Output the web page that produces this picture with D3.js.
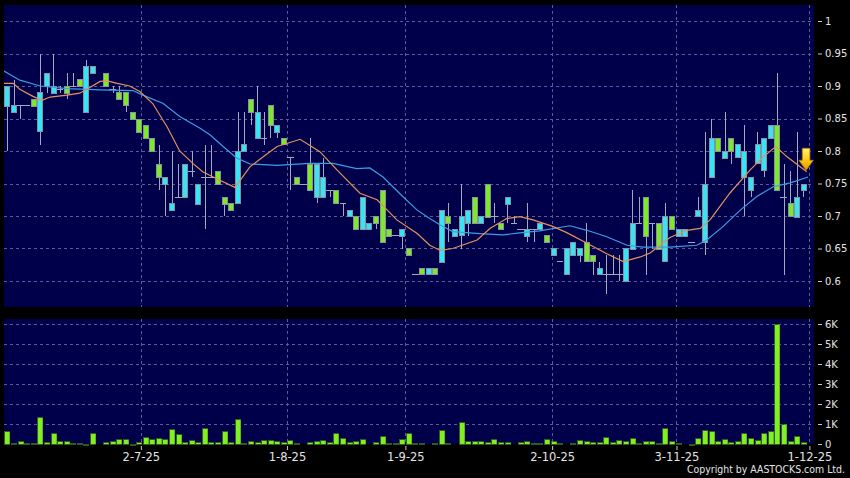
<!DOCTYPE html>
<html>
<head>
<meta charset="utf-8">
<script src="https://cdn.jsdelivr.net/npm/d3@7"></script>
<style>
html, body { margin: 0; padding: 0; background: #000; }
svg { display: block; }
</style>
</head>
<body>
<svg id="chart" width="850" height="478"></svg>
<script>
// daily candles, index 0 = first session shown (null = no trade)
const open  = [0.87,0.86,0.87,0.87,0.88,0.83,0.90,0.89,0.895,0.90,0.90,0.91,0.86,0.92,null,0.92,0.895,0.89,0.89,0.86,
  0.85,0.84,0.82,0.78,0.75,0.71,0.73,0.73,0.77,0.72,0.76,0.76,0.77,0.73,0.72,0.72,0.80,0.88,0.82,0.82,
  0.87,0.83,0.82,0.79,0.76,0.75,0.78,0.73,0.73,0.74,0.74,0.72,0.70,0.70,0.68,0.68,0.70,0.74,0.68,0.67,
  0.67,0.65,0.61,0.62,0.61,0.62,0.63,0.70,0.67,0.67,0.69,0.73,0.69,0.75,0.70,0.69,0.72,0.69,0.68,0.67,
  0.68,0.68,0.67,0.64,0.63,0.61,0.64,0.64,0.66,0.64,0.61,0.61,0.61,0.61,0.60,0.65,0.69,0.73,0.69,0.69,
  0.63,0.70,0.67,0.67,0.66,0.70,0.66,0.76,0.82,0.79,0.82,0.79,0.76,0.74,0.78,0.77,0.82,0.84,0.73,0.72,
  0.70,0.74];
const high  = [0.90,0.91,0.87,0.87,0.88,0.95,0.92,0.95,0.90,0.92,0.92,0.91,0.94,0.93,null,0.92,0.90,0.90,0.89,0.86,
  0.85,0.84,0.82,0.81,0.76,0.80,0.78,0.78,0.80,0.75,0.81,0.81,0.77,0.73,0.72,0.86,0.86,0.88,0.90,0.86,
  0.87,0.84,0.82,0.79,0.76,0.75,0.82,0.78,0.79,0.74,0.74,0.72,0.71,0.70,0.73,0.69,0.70,0.74,0.68,0.67,
  0.68,0.65,0.61,0.62,0.62,0.62,0.71,0.72,0.68,0.75,0.71,0.73,0.70,0.75,0.72,0.69,0.73,0.70,0.68,0.72,
  0.68,0.69,0.67,0.65,0.63,0.65,0.66,0.65,0.69,0.64,0.63,0.64,0.64,0.64,0.65,0.74,0.73,0.73,0.69,0.69,
  0.72,0.70,0.68,0.68,0.66,0.73,0.83,0.85,0.82,0.86,0.82,0.81,0.84,0.76,0.83,0.82,0.84,0.92,0.78,0.77,
  0.83,0.75];
const low   = [0.80,0.86,0.85,0.87,0.87,0.81,0.89,0.89,0.89,0.88,0.90,0.90,0.86,0.92,null,0.90,0.89,0.88,0.86,0.85,
  0.83,0.82,0.80,0.74,0.70,0.71,0.73,0.73,0.76,0.72,0.68,0.76,0.75,0.70,0.71,0.72,0.80,0.84,0.82,0.81,
  0.82,0.82,0.81,0.74,0.75,0.75,0.74,0.72,0.73,0.73,0.72,0.70,0.70,0.68,0.68,0.68,0.68,0.66,0.67,0.67,
  0.65,0.64,0.61,0.61,0.61,0.61,0.63,0.66,0.67,0.65,0.67,0.69,0.69,0.70,0.69,0.68,0.69,0.69,0.68,0.66,
  0.66,0.68,0.66,0.64,0.63,0.61,0.64,0.63,0.63,0.61,0.61,0.58,0.61,0.60,0.60,0.65,0.69,0.61,0.65,0.65,
  0.63,0.68,0.67,0.67,0.66,0.70,0.64,0.76,0.80,0.79,0.78,0.79,0.70,0.73,0.78,0.76,0.82,0.74,0.61,0.70,
  0.70,0.73];
const close = [0.90,0.87,0.87,0.87,0.87,0.89,0.92,0.90,0.895,0.89,0.90,0.90,0.93,0.93,null,0.90,0.895,0.88,0.87,0.85,
  0.83,0.82,0.80,0.76,0.76,0.72,0.73,0.78,0.77,0.75,0.76,0.76,0.75,0.72,0.71,0.80,0.81,0.86,0.86,0.82,
  0.84,0.84,0.81,0.79,0.75,0.75,0.74,0.78,0.76,0.74,0.72,0.72,0.71,0.68,0.73,0.69,0.69,0.66,0.67,0.67,
  0.68,0.64,0.61,0.61,0.62,0.61,0.71,0.69,0.68,0.70,0.71,0.69,0.70,0.70,0.70,0.68,0.73,0.69,0.68,0.68,
  0.68,0.69,0.66,0.65,0.63,0.65,0.66,0.65,0.63,0.63,0.62,0.61,0.61,0.61,0.65,0.69,0.69,0.67,0.69,0.65,
  0.70,0.68,0.68,0.68,0.66,0.71,0.75,0.82,0.80,0.80,0.80,0.81,0.80,0.76,0.81,0.82,0.84,0.74,0.73,0.70,
  0.73,0.75];
// volume in shares
const volume = [630,70,170,70,30,1370,80,530,170,150,30,50,20,550,0,80,130,250,270,20,
  80,370,250,300,250,750,520,100,180,120,800,100,80,650,120,1270,70,150,100,220,
  200,130,80,200,30,0,120,130,200,120,570,300,120,170,250,0,120,400,70,30,
  250,570,50,50,0,70,710,50,0,1080,150,170,150,80,270,80,120,0,80,170,
  30,30,240,150,30,0,30,220,170,80,100,340,80,190,140,300,30,170,170,30,
  780,140,30,0,10,320,680,640,140,240,120,150,570,300,190,540,660,6000,1000,170,
  390,120];

// moving averages: [session index, value]
const maShort = [[-0.5,0.904],[0.9,0.904],[1.9,0.895],[3.9,0.884],[5.3,0.878],[6.5,0.883],[9.1,0.886],[11,0.889],
  [12.6,0.898],[14.1,0.907],[15.2,0.908],[16.7,0.904],[18.6,0.900],[20.2,0.891],[22.1,0.873],[24.3,0.837],
  [26.2,0.800],[28.2,0.781],[29.7,0.768],[32.3,0.755],[34.6,0.744],[36.9,0.776],[38.9,0.791],[41,0.807],
  [44.5,0.818],[47.5,0.799],[50.1,0.771],[53.6,0.735],[56.2,0.725],[59.2,0.694],[62.3,0.673],[64.2,0.655],
  [65.8,0.647],[67.7,0.650],[71.4,0.663],[73.4,0.681],[75.9,0.696],[77.9,0.699],[79.9,0.694],[82.9,0.684],
  [85.1,0.674],[88.1,0.658],[91.1,0.642],[93.6,0.630],[96.2,0.637],[97.7,0.643],[100.7,0.667],[103.3,0.678],
  [105.3,0.681],[106.8,0.694],[109.8,0.735],[112.9,0.771],[114.9,0.791],[116.8,0.807],[118.5,0.791],[121.5,0.768]];
const maLong = [[-0.5,0.923],[1.9,0.909],[5,0.900],[9.1,0.896],[14.1,0.894],[19.1,0.893],[20.6,0.886],[23.7,0.873],
  [26.2,0.853],[29.3,0.835],[30.8,0.825],[32.8,0.807],[34.9,0.789],[36.9,0.780],[41,0.778],[46,0.781],
  [49.5,0.781],[53.1,0.773],[55.1,0.774],[57.1,0.760],[60.1,0.730],[62.3,0.709],[64.2,0.696],[65.8,0.686],
  [67.7,0.676],[71.8,0.673],[75.3,0.671],[77.9,0.674],[80.9,0.677],[85.5,0.685],[88.1,0.678],[91.1,0.668],
  [94.2,0.655],[96.6,0.652],[100.7,0.652],[104.8,0.655],[106.3,0.663],[108.8,0.684],[111.4,0.709],[113.9,0.730],
  [116.4,0.745],[119,0.751],[121.7,0.760]];

const dateLabels = ["2-7-25","1-8-25","1-9-25","2-10-25","3-11-25","1-12-25"];
const dateIdx = [20.3, 42.5, 60.5, 82.8, 101.7, 121.9];
const priceTicks = [0.6,0.65,0.7,0.75,0.8,0.85,0.9,0.95,1];
const volTicks = [0,1000,2000,3000,4000,5000,6000];

const svg = d3.select("#chart");
const plot = {left: 4, right: 814, top: 5, bottom: 307};
const vpan = {top: 319, bottom: 444};

const x = d3.scaleLinear().domain([-0.5, 122.6]).range([plot.left, plot.right]);
const y = d3.scaleLinear().domain([0.6, 1]).range([281, 21]);
const yv = d3.scaleLinear().domain([0, 6000]).range([vpan.bottom, 324]);

const cyan = "#36e4f4", lime = "#7eea26", wickCol = "#a4a8bc", edge = "#8494a4";
const gridCol = "#5c5c94";
const bw = 5.6;
const px = v => Math.round(v) + 0.5;

svg.append("rect").attr("width", 850).attr("height", 478).attr("fill", "#000");

svg.append("rect")
  .attr("x", plot.left).attr("y", plot.top)
  .attr("width", plot.right - plot.left).attr("height", plot.bottom - plot.top)
  .attr("fill", "#00004a");
svg.append("rect")
  .attr("x", plot.left).attr("y", vpan.top)
  .attr("width", plot.right - plot.left).attr("height", vpan.bottom - vpan.top)
  .attr("fill", "#00004a");

svg.append("clipPath").attr("id", "clipMain")
  .append("rect").attr("x", plot.left).attr("y", plot.top)
  .attr("width", plot.right - plot.left).attr("height", plot.bottom - plot.top);

// grid
const grid = svg.append("g")
  .attr("stroke", gridCol).attr("stroke-width", 1).attr("stroke-dasharray", "3,3")
  .attr("shape-rendering", "crispEdges");
grid.selectAll(".hp").data(priceTicks).enter().append("line")
  .attr("x1", plot.left).attr("x2", plot.right)
  .attr("y1", d => px(y(d))).attr("y2", d => px(y(d)));
grid.selectAll(".hv").data(volTicks.slice(1)).enter().append("line")
  .attr("x1", plot.left).attr("x2", plot.right)
  .attr("y1", d => px(yv(d))).attr("y2", d => px(yv(d)));
dateIdx.forEach(d => {
  grid.append("line").attr("x1", px(x(d))).attr("x2", px(x(d))).attr("y1", plot.top).attr("y2", plot.bottom);
  grid.append("line").attr("x1", px(x(d))).attr("x2", px(x(d))).attr("y1", vpan.top).attr("y2", vpan.bottom);
});

// candles
const candles = d3.range(open.length).filter(i => open[i] != null)
  .map(i => ({i: i, o: open[i], h: high[i], l: low[i], c: close[i]}));

const cg = svg.append("g").attr("clip-path", "url(#clipMain)").attr("shape-rendering", "crispEdges");
cg.selectAll(".wick").data(candles.filter(d => d.h > d.l)).enter().append("line")
  .attr("x1", d => px(x(d.i))).attr("x2", d => px(x(d.i)))
  .attr("y1", d => y(d.h)).attr("y2", d => y(d.l))
  .attr("stroke", wickCol).attr("stroke-width", 1);

cg.selectAll(".doji").data(candles.filter(d => d.o === d.c)).enter().append("line")
  .attr("x1", d => x(d.i) - bw / 2 - 0.5).attr("x2", d => x(d.i) + bw / 2 + 0.5)
  .attr("y1", d => px(y(d.o))).attr("y2", d => px(y(d.o)))
  .attr("stroke", wickCol).attr("stroke-width", 1);

cg.selectAll(".body").data(candles.filter(d => d.o !== d.c)).enter().append("rect")
  .attr("x", d => Math.round(x(d.i) - bw / 2) + 0.5)
  .attr("y", d => Math.round(y(Math.max(d.o, d.c))) + 0.5)
  .attr("width", bw - 0.6)
  .attr("height", d => Math.max(1, Math.round(Math.abs(y(d.o) - y(d.c)))))
  .attr("fill", d => d.c > d.o ? cyan : lime)
  .attr("stroke", edge).attr("stroke-width", 1);

// moving averages
const line = d3.line().x(d => x(d[0])).y(d => y(d[1]));
const mg = svg.append("g").attr("clip-path", "url(#clipMain)").attr("fill", "none");
mg.append("path").datum(maLong).attr("d", line).attr("stroke", "#3a9ee6").attr("stroke-width", 1.2);
mg.append("path").datum(maShort).attr("d", line).attr("stroke", "#e5905e").attr("stroke-width", 1.2);

// signal arrow at the end of the short average
const defs = svg.append("defs");
const grad = defs.append("linearGradient").attr("id", "arrowGrad")
  .attr("x1", 0).attr("y1", 0).attr("x2", 0).attr("y2", 1);
grad.append("stop").attr("offset", "0%").attr("stop-color", "#fff27a");
grad.append("stop").attr("offset", "45%").attr("stop-color", "#ffd21a");
grad.append("stop").attr("offset", "100%").attr("stop-color", "#e89400");
const tip = maShort[maShort.length - 1];
svg.append("path")
  .attr("transform", "translate(" + x(121.4) + "," + (y(tip[1]) - 1.5) + ")")
  .attr("d", "M0,0L-7.2,-10L-3.8,-10L-3.8,-22L3.8,-22L3.8,-10L7.2,-10Z")
  .attr("fill", "url(#arrowGrad)").attr("stroke", "#b07a00").attr("stroke-width", 0.8);

// volume
svg.append("g").attr("shape-rendering", "crispEdges")
  .selectAll("rect").data(volume.map((v, i) => ({i: i, v: v})).filter(d => d.v > 0)).enter().append("rect")
  .attr("x", d => Math.round(x(d.i) - bw / 2) + 0.5)
  .attr("y", d => Math.round(yv(d.v)) + 0.5)
  .attr("width", bw - 0.6)
  .attr("height", d => Math.max(0.5, Math.round(vpan.bottom - yv(d.v)) - 0.5))
  .attr("fill", "#80f020").attr("stroke", "#4c9a18").attr("stroke-width", 0.6);

// axes
const font = "DejaVu Sans, Verdana, sans-serif";
function styleAxis(g, size) {
  g.select(".domain").remove();
  g.selectAll(".tick line").attr("stroke", "#c8c8c8");
  g.selectAll(".tick text").attr("fill", "#e4e4e4").style("font-family", font).style("font-size", size);
}
svg.append("g").attr("transform", "translate(818,0)")
  .call(d3.axisRight(y).tickValues(priceTicks).tickSize(4).tickPadding(3).tickFormat(d => String(d)))
  .call(g => styleAxis(g, "10px"));
svg.append("g").attr("transform", "translate(818,0)")
  .call(d3.axisRight(yv).tickValues(volTicks).tickSize(4).tickPadding(3).tickFormat(d => d === 0 ? "0" : (d / 1000) + "K"))
  .call(g => styleAxis(g, "10px"));
svg.append("g").attr("transform", "translate(0,446)")
  .call(d3.axisBottom(x).tickValues(dateIdx).tickSize(4).tickPadding(3).tickFormat((d, i) => dateLabels[i]))
  .call(g => styleAxis(g, "11.5px"));

svg.append("text")
  .attr("x", 845).attr("y", 473).attr("text-anchor", "end")
  .attr("textLength", 158).attr("lengthAdjust", "spacingAndGlyphs")
  .style("font-family", font).style("font-size", "10.5px").attr("fill", "#e4e4e4")
  .text("Copyright by AASTOCKS.com Ltd.");
</script>
</body>
</html>
